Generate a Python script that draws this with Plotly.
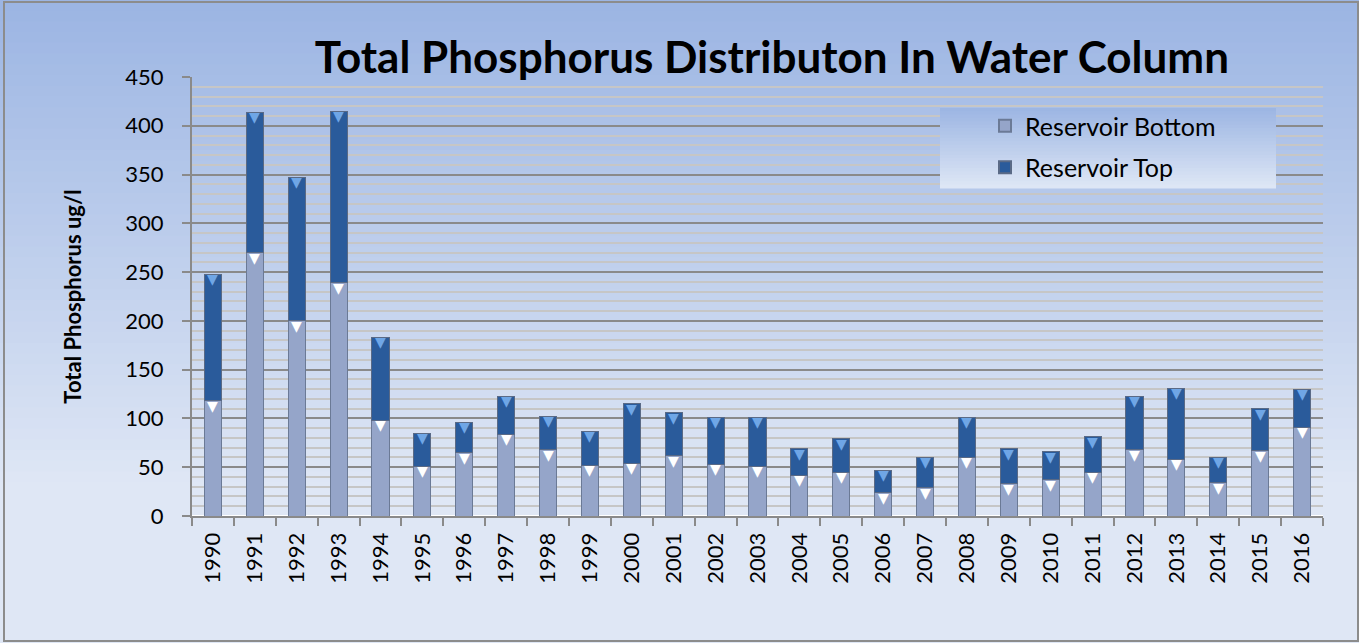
import plotly.graph_objects as go

years = [str(y) for y in range(1990, 2017)]
bottom = [118, 270, 200, 239, 98, 51, 65, 84, 68, 52, 54, 62, 53, 51, 42, 45, 24, 29,
          60, 33, 37, 45, 68, 58, 34, 67, 91]
total = [248, 414, 347, 415, 183, 85, 96, 123, 102, 87, 115, 106, 101, 101, 69, 79, 47, 60,
         101, 69, 66, 81, 123, 131, 60, 110, 130]
top = [t - b for t, b in zip(total, bottom)]

series_names = ["Reservoir Bottom", "Reservoir Top"]
y_ticks = [0, 50, 100, 150, 200, 250, 300, 350, 400, 450]

W, H = 1359, 643
L, R, T, B = 192, 36, 77, 127

fig = go.Figure()
fig.add_trace(go.Bar(x=years, y=bottom, name=series_names[0], legendgroup="a",
                     marker=dict(color="#95a5c9", line=dict(color="#6b7a96", width=1))))
fig.add_trace(go.Bar(x=years, y=top, name=series_names[1], legendgroup="b",
                     marker=dict(color="#2a5b9b", line=dict(color="#5a6a86", width=1))))

# bevel triangles at the top of each segment (category index positions)
annotations = []
for i, (b, t) in enumerate(zip(bottom, total)):
    annotations.append(dict(x=i, y=b, xref="x", yref="y", text="▼", showarrow=False,
                            yanchor="top", yshift=5, font=dict(size=14, color="white",
                                                                family="DejaVu Sans")))
    annotations.append(dict(x=i, y=t, xref="x", yref="y", text="▼", showarrow=False,
                            yanchor="top", yshift=5, font=dict(size=14, color="#6fa6e6",
                                                                family="DejaVu Sans")))

def lerp(c1, c2, f):
    a = [int(c1[k:k + 2], 16) for k in (1, 3, 5)]
    b = [int(c2[k:k + 2], 16) for k in (1, 3, 5)]
    return "#%02x%02x%02x" % tuple(round(a[k] + (b[k] - a[k]) * f) for k in range(3))

pw = W - L - R
ph = H - T - B
def px2x(p):
    return (p - L) / pw
def py2y(p):
    return (H - B - p) / ph

shapes = []
n = 60
for i in range(n):
    y0p = i * H / n
    y1p = (i + 1) * H / n + 1
    shapes.append(dict(type="rect", xref="paper", yref="paper", layer="below",
                       x0=px2x(0), x1=px2x(W), y0=py2y(y1p), y1=py2y(y0p),
                       line=dict(width=0),
                       fillcolor=lerp("#9cb5e3", "#dfe7f5", min(1, i / (n * 0.75)))))
# outer border
shapes.append(dict(type="rect", xref="paper", yref="paper", layer="above",
                   x0=px2x(4), x1=px2x(1358), y0=py2y(641), y1=py2y(2),
                   line=dict(color="#8c8c8c", width=2), fillcolor="rgba(0,0,0,0)"))
# legend gradient box
m = 24
lx0, lx1, ly0, ly1 = 940, 1276, 108, 188
for i in range(m):
    a = ly0 + i * (ly1 - ly0) / m
    b2 = ly0 + (i + 1) * (ly1 - ly0) / m + 0.6
    shapes.append(dict(type="rect", xref="paper", yref="paper", layer="above",
                       x0=px2x(lx0), x1=px2x(lx1), y0=py2y(b2), y1=py2y(a),
                       line=dict(width=0),
                       fillcolor=lerp("#9db6e3", "#dde6f5", i / (m - 1))))

fig.update_layout(
    width=W, height=H,
    margin=dict(l=L, r=R, t=T, b=B),
    barmode="stack",
    bargap=0.59,
    plot_bgcolor="white",
    paper_bgcolor="#dfe7f5",
    font=dict(family="Lato", color="black"),
    title=dict(text="<b>Total Phosphorus Distributon In Water Column</b>",
               x=0.568, xanchor="center", y=0.91, yanchor="middle",
               font=dict(size=44, family="Lato", color="black")),
    legend=dict(x=px2x(985), y=py2y(103), xanchor="left", yanchor="top",
                bgcolor="rgba(0,0,0,0)", font=dict(size=25, family="Lato"),
                tracegroupgap=6, itemsizing="constant"),
    shapes=shapes,
    annotations=annotations,
    xaxis=dict(type="category", range=[-0.5, len(years) - 0.5], tickangle=-90,
               tickfont=dict(size=22), ticklabelstandoff=6,
               showline=True, linecolor="#8a8a8a", linewidth=2,
               ticks="outside", tickson="boundaries", ticklen=8, tickcolor="#8a8a8a",
               tickwidth=2, showgrid=False),
    yaxis=dict(range=[0, 450], tickvals=y_ticks, tickfont=dict(size=22),
               ticklabelstandoff=14,
               showline=True, linecolor="#8a8a8a", linewidth=2,
               ticks="outside", ticklen=8, tickcolor="#8a8a8a", tickwidth=2,
               showgrid=True, gridcolor="#8a8a8a", gridwidth=2,
               minor=dict(dtick=10, showgrid=True, gridcolor="#c6c6c6", gridwidth=2),
               title=dict(text="<b>Total Phosphorus ug/l</b>", standoff=38,
                          font=dict(size=22, family="Lato"))),
)

fig.write_html("out.html", config={"displayModeBar": False},
               post_script="document.body.style.margin='0';")
